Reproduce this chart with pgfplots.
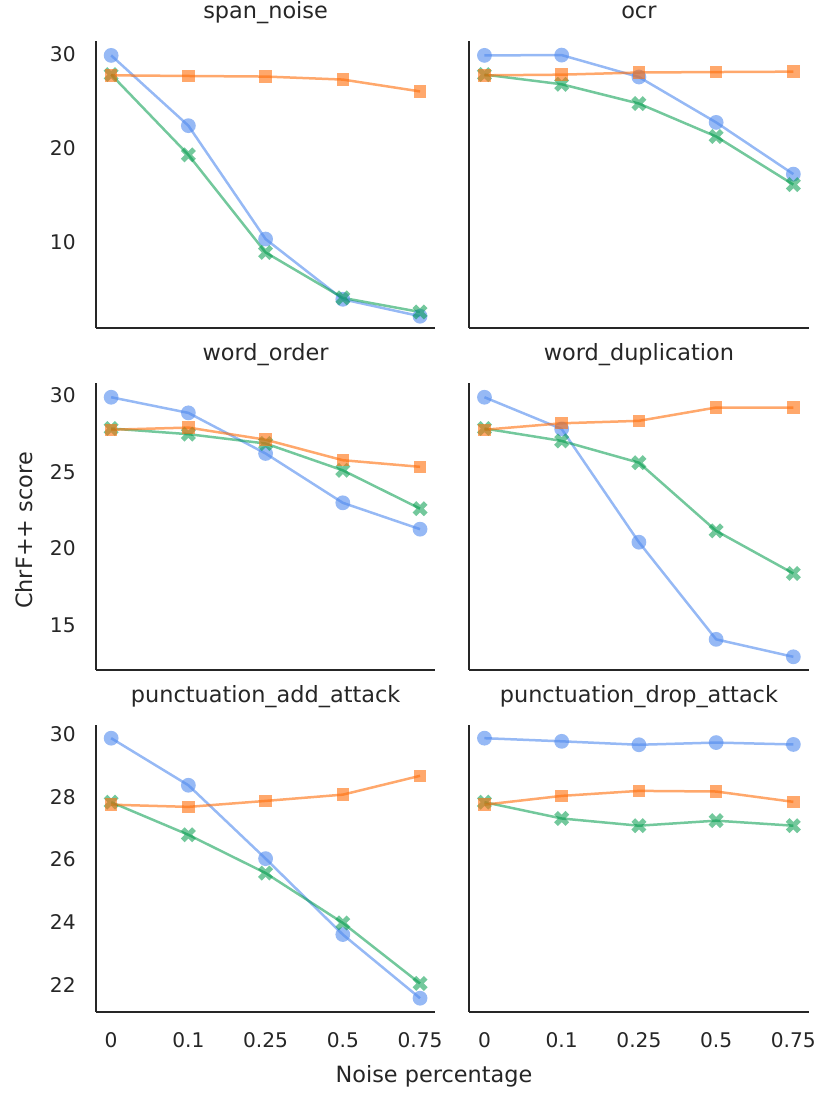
\documentclass[border=0pt]{standalone}
\usepackage{fontspec}
\setmainfont{DejaVu Sans}
\usepackage{pgfplots}
\pgfplotsset{compat=1.18}
\definecolor{tx}{HTML}{262626}
\definecolor{cblue}{RGB}{80,138,238}
\definecolor{corange}{RGB}{255,110,10}
\definecolor{cgreen}{RGB}{0,155,75}
\pgfplotsset{
  facet/.style={
    scale only axis, width=169.9pt, height=143.5pt,
    xmin=-0.2, xmax=4.2,
    axis lines*=left,
    axis line style={-, draw=tx, line width=1pt},
    major tick length=0pt,
    xtick={0,1,2,3,4},
    xticklabels={0,0.1,0.25,0.5,0.75},
    /pgf/number format/assume math mode=true,
    tick label style={font=\fontsize{10.1}{12}\selectfont, text=tx},
    yticklabel style={xshift=-6.5pt},
    xticklabel style={yshift=-7pt},
    title style={font=\fontsize{11.2}{13}\selectfont, text=tx, at={(0.5,1)}, anchor=base, yshift=5.2pt},
    clip=false,
  },
  sB/.style={cblue, opacity=0.6, line width=1.25pt, mark=*, mark size=3.7pt, mark options={draw opacity=0, line width=0pt, fill=cblue}},
  sG/.style={cgreen, opacity=0.55, line width=1.25pt, mark=x, mark size=4pt, mark options={line width=2.6pt}},
  sO/.style={corange, opacity=0.6, line width=1.25pt, mark=square*, mark size=3.1pt, mark options={draw opacity=0, line width=0pt, fill=corange}},
}
\begin{document}
\begin{tikzpicture}
\path[use as bounding box] (0,0) rectangle (415pt,551pt);
% Row 1
\begin{axis}[facet, at={(47.85pt,387pt)}, anchor=south west, ymin=0.9, ymax=31.4, ytick={10,20,30}, xticklabels={}, title={span\_noise}]
\addplot[sB] coordinates {(0,29.87) (1,22.4) (2,10.35) (3,3.95) (4,2.15)};
\addplot[sG] coordinates {(0,27.83) (1,19.3) (2,8.93) (3,4.1) (4,2.6)};
\addplot[sO] coordinates {(0,27.75) (1,27.68) (2,27.62) (3,27.3) (4,26.04)};
\end{axis}
\begin{axis}[facet, at={(234.5pt,387pt)}, anchor=south west, ymin=0.9, ymax=31.4, ytick={10,20,30}, yticklabels={}, xticklabels={}, title={ocr}]
\addplot[sB] coordinates {(0,29.87) (1,29.9) (2,27.57) (3,22.75) (4,17.25)};
\addplot[sG] coordinates {(0,27.83) (1,26.8) (2,24.75) (3,21.25) (4,16.14)};
\addplot[sO] coordinates {(0,27.75) (1,27.82) (2,28.05) (3,28.1) (4,28.14)};
\end{axis}
% Row 2
\begin{axis}[facet, at={(47.85pt,216pt)}, anchor=south west, ymin=12.07, ymax=30.8, ytick={15,20,25,30}, xticklabels={}, title={word\_order}]
\addplot[sB] coordinates {(0,29.87) (1,28.85) (2,26.2) (3,22.98) (4,21.26)};
\addplot[sG] coordinates {(0,27.83) (1,27.46) (2,26.85) (3,25.1) (4,22.6)};
\addplot[sO] coordinates {(0,27.75) (1,27.89) (2,27.1) (3,25.76) (4,25.33)};
\end{axis}
\begin{axis}[facet, at={(234.5pt,216pt)}, anchor=south west, ymin=12.07, ymax=30.8, ytick={15,20,25,30}, yticklabels={}, xticklabels={}, title={word\_duplication}]
\addplot[sB] coordinates {(0,29.87) (1,27.8) (2,20.41) (3,14.07) (4,12.93)};
\addplot[sG] coordinates {(0,27.83) (1,27.02) (2,25.6) (3,21.15) (4,18.37)};
\addplot[sO] coordinates {(0,27.75) (1,28.17) (2,28.33) (3,29.2) (4,29.2)};
\end{axis}
% Row 3
\begin{axis}[facet, at={(47.85pt,45.15pt)}, anchor=south west, ymin=21.15, ymax=30.3, ytick={22,24,26,28,30}, title={punctuation\_add\_attack}]
\addplot[sB] coordinates {(0,29.87) (1,28.37) (2,26.03) (3,23.61) (4,21.58)};
\addplot[sG] coordinates {(0,27.83) (1,26.79) (2,25.57) (3,23.98) (4,22.05)};
\addplot[sO] coordinates {(0,27.75) (1,27.68) (2,27.87) (3,28.07) (4,28.67)};
\end{axis}
\begin{axis}[facet, at={(234.5pt,45.15pt)}, anchor=south west, ymin=21.15, ymax=30.3, ytick={22,24,26,28,30}, yticklabels={}, title={punctuation\_drop\_attack}]
\addplot[sB] coordinates {(0,29.87) (1,29.77) (2,29.66) (3,29.73) (4,29.67)};
\addplot[sG] coordinates {(0,27.83) (1,27.31) (2,27.08) (3,27.24) (4,27.08)};
\addplot[sO] coordinates {(0,27.75) (1,28.03) (2,28.19) (3,28.17) (4,27.84)};
\end{axis}
\node[anchor=base, text=tx, font=\fontsize{11.2}{13}\selectfont, inner sep=0pt] at (217pt,9.5pt) {Noise percentage};
\node[anchor=base, rotate=90, text=tx, font=\fontsize{11.2}{13}\selectfont, inner sep=0pt] at (16.2pt,285.75pt) {ChrF++ score};
\end{tikzpicture}
\end{document}
